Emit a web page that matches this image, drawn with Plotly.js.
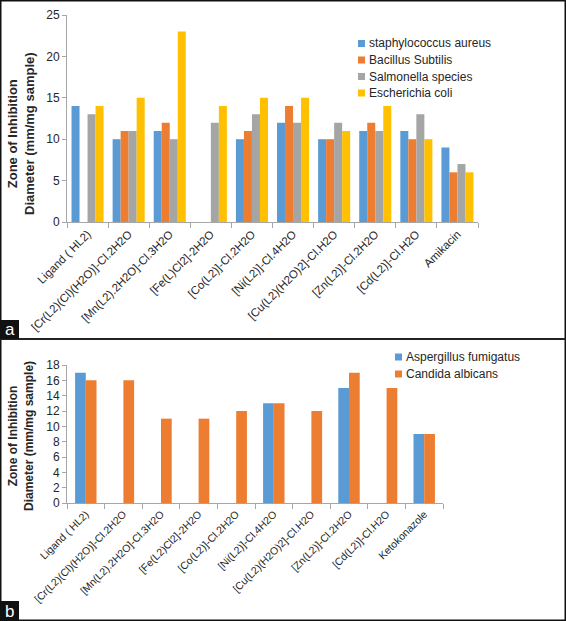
<!DOCTYPE html>
<html>
<head>
<meta charset="utf-8">
<script src="https://cdn.plot.ly/plotly-3.0.1.min.js"></script>
<style>html,body{margin:0;padding:0;background:#fff;}#chart{width:566px;height:621px;}</style>
</head>
<body>
<div id="chart"></div>
<script>
var categoriesA = ["Ligand ( HL2)", "[Cr(L2)(Cl)(H2O)]-Cl.2H2O", "[Mn(L2).2H2O]-Cl.3H2O", "[Fe(L)Cl2]-2H2O", "[Co(L2)]-Cl.2H2O", "[Ni(L2)]-Cl.4H2O", "[Cu(L2)(H2O)2]-Cl.H2O", "[Zn(L2)]-Cl.2H2O", "[Cd(L2)]-Cl.H2O", "Amikacin"];
var staphylococcus = [14, 10, 11, null, 10, 12, 10, 11, 11, 9];
var bacillus = [null, 11, 12, null, 11, 14, 10, 12, 10, 6];
var salmonella = [13, 11, 10, 12, 13, 12, 12, 11, 13, 7];
var ecoli = [14, 15, 23, 14, 15, 15, 11, 14, 10, 6];

var categoriesB = ["Ligand ( HL2)", "[Cr(L2)(Cl)(H2O)]-Cl.2H2O", "[Mn(L2).2H2O]-Cl.3H2O", "[Fe(L2)Cl2]-2H2O", "[Co(L2)]-Cl.2H2O", "[Ni(L2)]-Cl.4H2O", "[Cu(L2)(H2O)2]-Cl.H2O", "[Zn(L2)]-Cl.2H2O", "[Cd(L2)]-Cl.H2O", "Ketokonazole"];
var aspergillus = [17, null, null, null, null, 13, null, 15, null, 9];
var candida = [16, 16, 11, 11, 12, 13, 12, 17, 15, 9];

var seriesNamesA = ["staphylococcus aureus", "Bacillus Subtilis", "Salmonella species", "Escherichia coli"];
var seriesNamesB = ["Aspergillus fumigatus", "Candida albicans"];

var W = 566, H = 621;
function px(x){return x/W;}
function py(y){return 1 - y/H;}

var blue = "#5B9BD5", orange = "#ED7D31", gray = "#A5A5A5", gold = "#FFC000";
var colorsA = [blue, orange, gray, gold];
var colorsB = [blue, orange];
var FONT = "Liberation Sans, Arial, sans-serif";
var TXT = "#262626";

var valuesA = [staphylococcus, bacillus, salmonella, ecoli];
var valuesB = [aspergillus, candida];

var traces = [];
valuesA.forEach(function(v, i){
  traces.push({type:"bar", name:seriesNamesA[i], x:categoriesA, y:v, marker:{color:colorsA[i]}, xaxis:"x", yaxis:"y", showlegend:false});
});
valuesB.forEach(function(v, i){
  traces.push({type:"bar", name:seriesNamesB[i], x:categoriesB, y:v, marker:{color:colorsB[i]}, xaxis:"x2", yaxis:"y2", showlegend:false,
    width:0.285, offset:(i === 0 ? -0.285 : 0)});
});

var axLine = "#A6A6A6";
function xax(domain, anchor, fs){
  return {domain:domain, anchor:anchor, type:"category", showgrid:false, showline:true, linecolor:axLine, linewidth:1,
    ticks:"outside", tickson:"boundaries", ticklen:5, tickcolor:axLine, tickangle:-45,
    tickfont:{family:FONT, size:fs, color:TXT}, fixedrange:true};
}
function yax(domain, anchor, range, dtick){
  return {domain:domain, anchor:anchor, range:range, dtick:dtick, showgrid:false, showline:true, linecolor:axLine, linewidth:1,
    ticks:"outside", ticklen:4, tickcolor:axLine, zeroline:false,
    tickfont:{family:FONT, size:12, color:TXT}, fixedrange:true};
}

var shapes = [
  {type:"rect", xref:"paper", yref:"paper", x0:0, x1:1, y0:0, y1:1, line:{color:"#111", width:3}},
  {type:"line", xref:"paper", yref:"paper", x0:0, x1:1, y0:py(339), y1:py(339), line:{color:"#222", width:2}},
  {type:"rect", xref:"paper", yref:"paper", x0:0, x1:px(19), y0:py(339), y1:py(320), fillcolor:"#111", line:{width:0}},
  {type:"rect", xref:"paper", yref:"paper", x0:0, x1:px(19), y0:py(621), y1:py(601), fillcolor:"#111", line:{width:0}}
];
var annotations = [
  {xref:"paper", yref:"paper", x:px(21), y:py(134), text:"<b>Zone of Inhibition<br>Diameter (mm/mg sample)</b>", textangle:-90, showarrow:false,
    font:{family:FONT, size:13, color:TXT}, xanchor:"center", yanchor:"middle"},
  {xref:"paper", yref:"paper", x:px(21), y:py(436), text:"<b>Zone of Inhibition<br>Diameter (mm/mg sample)</b>", textangle:-90, showarrow:false,
    font:{family:FONT, size:12, color:TXT}, xanchor:"center", yanchor:"middle"},
  {xref:"paper", yref:"paper", x:px(9.5), y:py(329.5), text:"a", showarrow:false, font:{family:FONT, size:17, color:"#fff"}, xanchor:"center", yanchor:"middle"},
  {xref:"paper", yref:"paper", x:px(9.5), y:py(611), text:"b", showarrow:false, font:{family:FONT, size:17, color:"#fff"}, xanchor:"center", yanchor:"middle"}
];

// custom legends (small square swatch directly before the name, as in the reference)
function addLegend(names, colors, x0, yTop, step){
  names.forEach(function(n, i){
    var yc = yTop + i*step;
    shapes.push({type:"rect", xref:"paper", yref:"paper", x0:px(x0), x1:px(x0+7), y0:py(yc+3.5), y1:py(yc-3.5), fillcolor:colors[i], line:{width:0}});
    annotations.push({xref:"paper", yref:"paper", x:px(x0+9), y:py(yc), text:n, showarrow:false, xanchor:"left", yanchor:"middle",
      font:{family:FONT, size:12, color:TXT}});
  });
}
addLegend(seriesNamesA, colorsA, 358, 43.5, 16.5);
addLegend(seriesNamesB, colorsB, 395, 357, 17);

var layout = {
  width:W, height:H,
  margin:{l:0, r:0, t:0, b:0},
  paper_bgcolor:"#fff", plot_bgcolor:"rgba(0,0,0,0)",
  showlegend:false,
  barmode:"group",
  bargap:0.22,
  xaxis: xax([px(67), px(478)], "y", 11.5),
  yaxis: yax([py(222), py(15)], "x", [0, 25], 5),
  xaxis2: xax([px(67), px(443)], "y2", 10.5),
  yaxis2: yax([py(503), py(365)], "x2", [0, 18], 2),
  shapes: shapes,
  annotations: annotations
};

Plotly.newPlot("chart", traces, layout, {displayModeBar:false, staticPlot:true});
</script>
</body>
</html>
